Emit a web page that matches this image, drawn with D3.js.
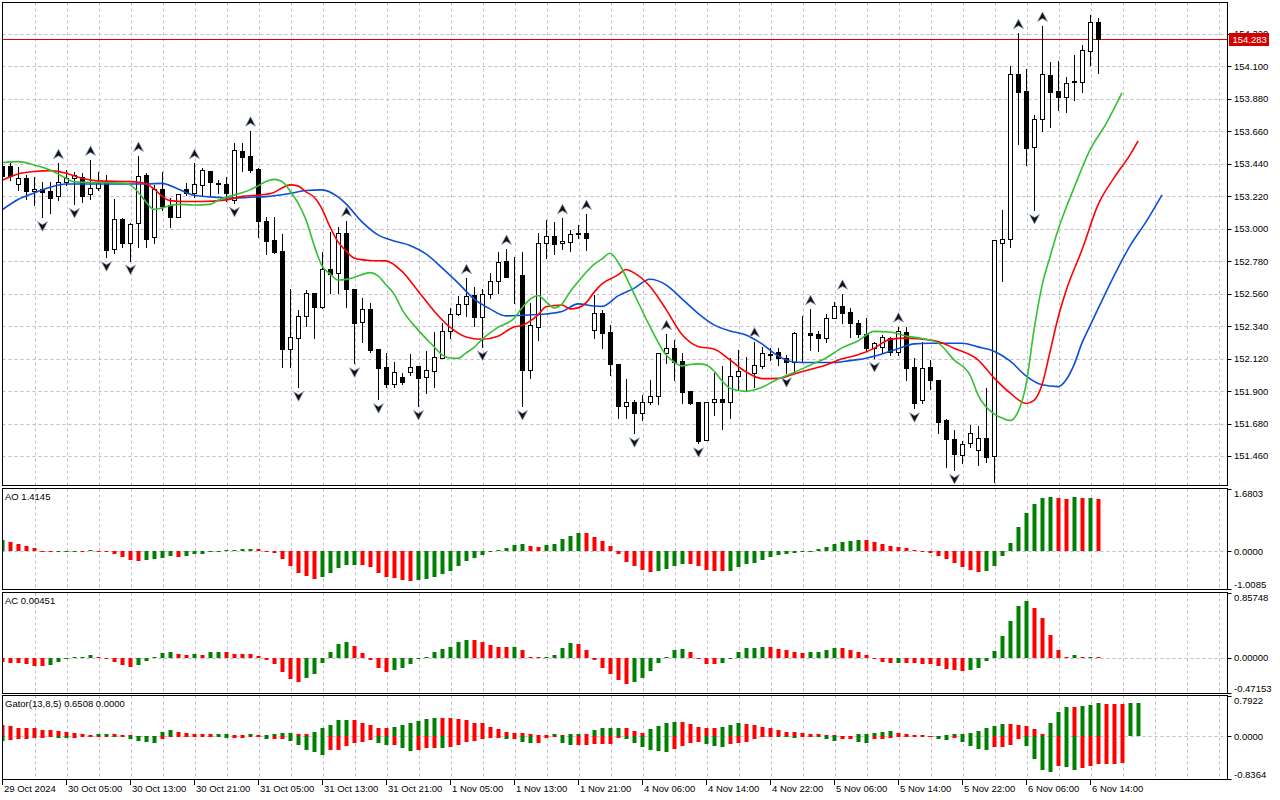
<!DOCTYPE html>
<html>
<head>
<meta charset="utf-8">
<script src="https://cdn.jsdelivr.net/npm/d3@7"></script>
<style>
  body { margin: 0; background: #fff; }
  svg { display: block; }
  text { font-family: "Liberation Sans", Arial, sans-serif; font-size: 9.5px; fill: #000; }
</style>
</head>
<body>
<svg id="chart" width="1280" height="800"></svg>
<script>
// USDJPY H1, 29 Oct 2024 21:00 .. 6 Nov 2024, one entry per hourly bar
var open = [153.425,153.425,153.303,153.342,153.254,153.267,153.256,153.222,153.315,153.342,
  153.353,153.234,153.274,153.319,152.861,153.064,152.902,153.037,153.364,152.943,
  153.267,153.161,153.082,153.267,153.244,153.297,153.391,153.310,153.303,153.195,
  153.527,153.493,153.405,153.053,152.924,152.850,152.184,152.259,152.410,152.563,
  152.473,152.726,152.699,152.970,152.593,152.367,152.457,152.184,152.062,151.947,
  151.995,152.033,152.071,151.995,152.039,152.123,152.308,152.421,152.489,152.550,
  152.405,152.557,152.647,152.782,152.676,152.687,152.044,152.337,152.902,152.951,
  152.902,152.913,152.970,152.974,152.315,152.428,152.299,152.085,151.802,151.825,
  151.751,151.830,151.868,152.157,152.191,152.105,151.902,151.830,151.570,151.825,
  151.846,151.830,152.006,152.024,152.022,152.071,152.146,152.164,152.123,152.100,
  152.288,152.295,152.286,152.263,152.394,152.477,152.439,152.364,152.286,152.193,
  152.202,152.263,152.168,152.303,152.066,151.841,152.066,151.976,151.706,151.575,
  151.467,151.548,151.503,151.582,151.462,152.906,152.929,154.048,153.935,153.556,
  153.741,154.041,153.935,153.894,153.998,153.992,154.206,154.398];
var high = [153.446,153.443,153.416,153.364,153.353,153.315,153.319,153.443,153.398,153.387,
  153.376,153.466,153.387,153.364,153.200,153.073,153.037,153.493,153.378,153.297,
  153.387,153.207,153.236,153.308,153.443,153.410,153.391,153.330,153.353,153.583,
  153.579,153.664,153.410,153.078,153.082,152.965,152.590,152.450,152.586,152.565,
  152.845,152.980,153.010,153.053,152.593,152.529,152.496,152.184,152.157,152.100,
  152.026,152.153,152.071,152.175,152.303,152.360,152.462,152.545,152.665,152.608,
  152.590,152.703,152.845,152.863,152.811,152.845,152.496,152.970,153.060,153.044,
  153.071,152.992,153.026,153.100,152.552,152.450,152.349,152.085,151.981,151.841,
  151.875,151.976,152.157,152.286,152.247,152.157,151.902,151.830,151.825,152.022,
  152.071,152.123,152.179,152.134,152.236,152.202,152.191,152.191,152.146,152.303,
  152.410,152.455,152.310,152.423,152.506,152.559,152.462,152.382,152.394,152.236,
  152.281,152.269,152.337,152.337,152.123,152.236,152.112,151.976,151.710,151.638,
  151.565,151.672,151.665,151.920,152.924,153.127,154.102,154.324,154.080,153.770,
  154.373,154.131,154.136,154.026,154.177,154.244,154.447,154.425];
var low = [153.344,153.330,153.263,153.200,153.161,153.078,153.109,153.195,153.297,153.168,
  153.184,153.200,153.263,152.807,152.838,152.879,152.784,152.879,152.879,152.902,
  153.127,153.010,153.078,153.229,153.217,153.222,153.222,153.240,153.190,153.175,
  153.393,153.387,152.942,152.829,152.838,152.066,152.062,151.927,152.342,152.259,
  152.464,152.567,152.567,152.473,152.089,152.236,152.168,151.846,151.927,151.927,
  151.947,152.010,151.800,151.890,151.931,152.123,152.259,152.416,152.410,152.344,
  152.202,152.529,152.567,152.676,152.496,151.800,151.988,152.247,152.800,152.829,
  152.863,152.850,152.940,152.857,152.259,152.191,152.010,151.717,151.717,151.615,
  151.706,151.812,151.812,152.089,151.976,151.819,151.814,151.548,151.570,151.739,
  151.643,151.717,151.909,151.909,151.931,152.056,152.112,152.078,152.022,152.033,
  152.100,152.180,152.175,152.236,152.394,152.360,152.269,152.269,152.180,152.125,
  152.157,152.146,152.146,151.976,151.785,151.819,151.913,151.616,151.389,151.367,
  151.412,151.525,151.401,151.423,151.286,152.649,152.875,153.574,153.432,153.127,
  153.662,153.691,153.804,153.793,153.872,153.928,154.109,154.053];
var close = [153.357,153.359,153.342,153.256,153.267,153.249,153.211,153.315,153.342,153.364,
  153.222,153.274,153.308,152.857,153.064,152.902,153.031,153.357,152.929,153.267,
  153.154,153.082,153.234,153.244,153.303,153.398,153.319,153.306,153.240,153.534,
  153.488,153.398,153.053,152.919,152.845,152.184,152.265,152.410,152.565,152.473,
  152.726,152.694,152.970,152.595,152.364,152.457,152.180,152.060,151.947,152.033,
  151.965,152.066,151.988,152.044,152.130,152.310,152.421,152.489,152.547,152.401,
  152.557,152.649,152.777,152.676,152.674,152.044,152.349,152.902,152.951,152.895,
  152.917,152.965,152.965,152.936,152.428,152.297,152.083,151.800,151.825,151.751,
  151.830,151.868,152.157,152.191,152.100,151.897,151.823,151.563,151.825,151.846,
  151.830,152.004,152.037,152.020,152.078,152.157,152.149,152.123,152.100,152.293,
  152.284,152.281,152.263,152.394,152.477,152.432,152.360,152.286,152.195,152.227,
  152.265,152.168,152.308,152.056,151.823,152.056,151.976,151.694,151.575,151.475,
  151.543,151.616,151.582,151.453,152.924,152.929,154.048,153.928,153.549,153.741,
  154.048,153.928,153.894,153.989,153.994,154.211,154.398,154.283];

// bars carrying a Bill Williams fractal
var fractalUp = [7, 11, 17, 24, 31, 43, 58, 63, 70, 73, 83, 94, 101, 105, 112, 127, 130];
var fractalDown = [5, 9, 13, 16, 29, 37, 44, 47, 52, 60, 65, 79, 87, 98, 109, 114, 119, 124, 129];

// Alligator lines as [bar, price]; they run past the last bar by their shift
var jaw = [[0,153.127],[2,153.198],[4,153.242],[6,153.281],[8,153.303],[14,153.303],[18,153.303],[20,153.307],
  [22,153.269],[24,153.226],[27,153.212],[29,153.207],[31,153.213],[33,153.217],[36,153.239],[38,153.259],
  [40,153.263],[42,153.215],[43,153.168],[45,153.046],[47,152.958],[49,152.917],[51,152.887],[53,152.829],
  [55,152.735],[57,152.633],[59,152.525],[61,152.457],[63,152.410],[65,152.414],[68,152.423],[70,152.439],
  [72,152.491],[74,152.477],[75,152.474],[77,152.545],[79,152.596],[81,152.658],[83,152.620],[85,152.525],
  [87,152.427],[89,152.349],[91,152.308],[93,152.281],[95,152.220],[97,152.139],[99,152.098],[101,152.094],
  [104,152.094],[106,152.107],[108,152.123],[110,152.152],[112,152.188],[114,152.220],[116,152.225],
  [120,152.225],[122,152.200],[124,152.171],[126,152.105],[128,152.004],[130,151.943],[132,151.931],
  [133,151.976],[134,152.078],[135,152.227],[136,152.342],[137,152.457],[139,152.681],[141,152.884],
  [143,153.046],[145,153.229]];
var teeth = [[0,153.327],[2,153.371],[4,153.387],[6,153.393],[8,153.376],[10,153.342],[12,153.324],[16,153.319],
  [18,153.305],[19,153.269],[20,153.222],[21,153.190],[23,153.184],[25,153.184],[28,153.195],[30,153.219],
  [32,153.227],[34,153.246],[35,153.276],[36,153.297],[37,153.290],[38,153.249],[39,153.215],[40,153.134],
  [41,153.012],[42,152.911],[43,152.850],[44,152.802],[46,152.785],[48,152.782],[50,152.711],[52,152.579],
  [54,152.443],[56,152.333],[58,152.267],[60,152.252],[62,152.272],[64,152.335],[65,152.345],[67,152.416],
  [68,152.471],[70,152.484],[71,152.457],[72,152.464],[73,152.498],[74,152.569],[75,152.626],[77,152.687],
  [78,152.724],[79,152.701],[81,152.609],[83,152.454],[85,152.284],[87,152.203],[89,152.185],[91,152.112],
  [93,152.031],[95,151.985],[97,151.987],[99,152.017],[101,152.047],[103,152.078],[105,152.119],[107,152.146],
  [109,152.190],[111,152.251],[113,152.259],[116,152.247],[117,152.237],[119,152.191],[122,152.112],
  [124,151.990],[126,151.888],[128,151.817],[129,151.838],[130,151.943],[131,152.166],[132,152.396],
  [133,152.579],[135,152.857],[137,153.161],[139,153.344],[141,153.500],[142,153.594]];
var lips = [[0,153.448],[2,153.454],[4,153.432],[6,153.398],[8,153.342],[9,153.317],[12,153.312],[15,153.310],
  [16,153.297],[17,153.249],[18,153.181],[19,153.131],[20,153.141],[22,153.165],[24,153.161],[26,153.165],
  [27,153.192],[28,153.212],[30,153.243],[31,153.263],[32,153.290],[33,153.320],[34,153.334],[35,153.320],
  [36,153.256],[37,153.175],[38,153.060],[39,152.890],[40,152.748],[41,152.694],[42,152.653],[43,152.657],
  [44,152.670],[46,152.703],[47,152.681],[48,152.620],[49,152.559],[50,152.454],[52,152.315],[54,152.202],
  [55,152.146],[56,152.125],[57,152.122],[58,152.159],[59,152.196],[60,152.251],[62,152.332],[64,152.393],
  [65,152.464],[66,152.521],[67,152.548],[68,152.507],[69,152.464],[70,152.491],[71,152.572],[72,152.640],
  [74,152.758],[75,152.796],[76,152.834],[77,152.775],[78,152.674],[79,152.561],[81,152.337],[83,152.146],
  [84,152.098],[85,152.071],[86,152.081],[87,152.085],[88,152.078],[89,152.037],[90,151.970],[91,151.920],
  [93,151.899],[95,151.926],[97,151.983],[99,152.027],[101,152.076],[103,152.125],[105,152.193],[107,152.240],
  [109,152.305],[111,152.301],[113,152.274],[115,152.257],[117,152.227],[119,152.112],[121,152.010],
  [122,151.875],[124,151.746],[125,151.719],[126,151.701],[127,151.760],[128,151.943],[129,152.315],
  [130,152.613],[131,152.809],[132,152.992],[133,153.141],[134,153.276],[136,153.534],[138,153.710],[140,153.919]];

// Awesome Oscillator
var ao = [0.30,0.25,0.196,0.143,0.089,0.018,0.010,0.012,0.018,0.020,
  0.008,0.036,0.009,-0.003,-0.06,-0.15,-0.23,-0.25,-0.22,-0.215,
  -0.18,-0.125,-0.143,-0.125,-0.07,-0.065,-0.01,-0.005,0.03,0.05,
  0.075,0.08,0.078,0.02,-0.04,-0.2,-0.39,-0.59,-0.66,-0.73,
  -0.68,-0.57,-0.44,-0.37,-0.35,-0.365,-0.42,-0.59,-0.68,-0.70,
  -0.77,-0.78,-0.77,-0.73,-0.68,-0.60,-0.53,-0.39,-0.25,-0.17,
  -0.10,-0.005,0.036,0.09,0.17,0.196,0.143,0.116,0.17,0.196,
  0.34,0.43,0.49,0.485,0.39,0.28,0.14,-0.06,-0.28,-0.39,
  -0.50,-0.55,-0.526,-0.46,-0.39,-0.33,-0.335,-0.39,-0.50,-0.526,
  -0.53,-0.52,-0.42,-0.33,-0.30,-0.22,-0.14,-0.107,-0.06,-0.036,
  -0.005,0.009,0.062,0.116,0.196,0.25,0.276,0.303,0.30,0.25,
  0.196,0.143,0.116,0.089,0.036,-0.008,-0.036,-0.116,-0.214,-0.30,
  -0.42,-0.49,-0.544,-0.526,-0.39,-0.116,0.223,0.65,1.025,1.266,
  1.444,1.47,1.426,1.408,1.47,1.426,1.444,1.4145];

// Accelerator Oscillator
var ac = [-0.06,-0.072,-0.073,-0.089,-0.107,-0.116,-0.103,-0.063,-0.013,0.002,
  0.013,0.027,0.013,-0.018,-0.058,-0.094,-0.125,-0.103,-0.045,0.004,
  0.054,0.072,0.045,0.036,0.045,0.040,0.072,0.075,0.072,0.045,
  0.044,0.043,0.018,-0.027,-0.085,-0.192,-0.286,-0.327,-0.273,-0.219,
  -0.072,0.072,0.179,0.206,0.152,0.054,-0.031,-0.139,-0.192,-0.166,
  -0.139,-0.085,-0.009,0.013,0.072,0.107,0.134,0.206,0.233,0.230,
  0.206,0.166,0.139,0.137,0.139,0.098,0.013,0.002,0.009,0.040,
  0.121,0.192,0.179,0.098,-0.031,-0.139,-0.219,-0.304,-0.353,-0.327,
  -0.273,-0.179,-0.072,0.013,0.098,0.112,0.072,-0.002,-0.085,-0.087,
  -0.072,-0.013,0.072,0.125,0.127,0.139,0.137,0.112,0.098,0.072,
  0.058,0.072,0.074,0.098,0.125,0.123,0.098,0.072,0.027,-0.018,
  -0.058,-0.072,-0.070,-0.072,-0.074,-0.085,-0.087,-0.112,-0.152,-0.166,
  -0.179,-0.166,-0.139,-0.045,0.085,0.286,0.488,0.689,0.756,0.662,
  0.528,0.300,0.098,0.004,0.027,0.002,0.013,0.00451];

// Gator(13,8,5): upper = |jaw - teeth|, lower = -|teeth - lips|
var gatorUp = [0.219,0.205,0.172,0.170,0.159,0.132,0.119,0.099,0.079,0.066,
  0.046,0.033,0.040,0.046,0.045,0.033,0.020,0.013,0.007,0.013,
  0.086,0.126,0.086,0.060,0.040,0.039,0.038,0.040,0.046,0.020,
  0.019,0.040,0.026,0.033,0.040,0.060,0.061,0.040,0.039,0.086,
  0.166,0.232,0.318,0.325,0.318,0.265,0.225,0.172,0.159,0.192,
  0.225,0.258,0.298,0.344,0.364,0.362,0.358,0.338,0.318,0.272,
  0.258,0.192,0.139,0.093,0.073,0.060,0.040,0.033,0.032,0.053,
  0.033,0.040,0.041,0.040,0.119,0.159,0.160,0.161,0.159,0.099,
  0.060,0.139,0.205,0.258,0.285,0.284,0.238,0.192,0.172,0.166,
  0.192,0.232,0.265,0.238,0.232,0.185,0.166,0.126,0.086,0.080,
  0.060,0.053,0.040,0.033,0.020,0.007,0.005,0.040,0.046,0.066,
  0.093,0.106,0.073,0.040,0.033,0.020,0.017,0.013,0.033,0.046,
  0.053,0.073,0.106,0.172,0.205,0.245,0.244,0.232,0.205,0.146,
  0.040,0.265,0.483,0.583,0.576,0.603,0.623,0.656,0.642,0.636,
  0.630,0.648,0.6508];
var gatorDown = [-0.099,-0.079,-0.060,-0.060,-0.026,-0.026,-0.020,-0.033,-0.040,-0.026,
  -0.013,-0.013,-0.007,-0.007,-0.020,-0.013,-0.046,-0.093,-0.113,-0.126,
  -0.060,-0.020,-0.020,-0.007,-0.007,-0.007,-0.007,-0.013,-0.033,-0.026,
  -0.026,-0.013,-0.013,-0.060,-0.060,-0.060,-0.093,-0.179,-0.258,-0.311,
  -0.364,-0.258,-0.258,-0.192,-0.126,-0.113,-0.079,-0.126,-0.179,-0.179,
  -0.225,-0.278,-0.258,-0.225,-0.225,-0.230,-0.212,-0.179,-0.106,-0.093,
  -0.060,-0.033,-0.033,-0.060,-0.060,-0.113,-0.126,-0.126,-0.033,-0.007,
  -0.126,-0.179,-0.179,-0.166,-0.159,-0.159,-0.159,-0.026,-0.046,-0.126,
  -0.205,-0.272,-0.291,-0.305,-0.238,-0.192,-0.126,-0.113,-0.159,-0.192,
  -0.205,-0.146,-0.126,-0.106,-0.060,-0.007,-0.003,-0.007,-0.020,-0.026,
  -0.013,-0.007,-0.020,-0.060,-0.093,-0.060,-0.060,-0.113,-0.126,-0.060,
  -0.060,-0.040,-0.020,-0.007,-0.007,-0.007,-0.003,-0.046,-0.066,-0.026,
  -0.106,-0.192,-0.245,-0.258,-0.205,-0.205,-0.166,-0.060,-0.192,-0.444,
  -0.656,-0.695,-0.589,-0.603,-0.656,-0.623,-0.576,-0.543,-0.543,-0.542,
  -0.523];

var priceTicks = [154.320,154.100,153.880,153.660,153.440,153.220,153.000,152.780,152.560,152.340,152.120,151.900,151.680,151.460];
var aoTicks = ["1.6803", "0.0000", "-1.0085"];
var acTicks = ["0.85748", "0.00000", "-0.47153"];
var gatorTicks = ["0.7922", "0.0000", "-0.8364"];
var timeLabels = ["29 Oct 2024","30 Oct 05:00","30 Oct 13:00","30 Oct 21:00","31 Oct 05:00","31 Oct 13:00",
  "31 Oct 21:00","1 Nov 05:00","1 Nov 13:00","1 Nov 21:00","4 Nov 06:00","4 Nov 14:00","4 Nov 22:00",
  "5 Nov 06:00","5 Nov 14:00","5 Nov 22:00","6 Nov 06:00","6 Nov 14:00"];
var lastPrice = 154.283;

var GREEN = "#008000", RED = "#ff0000", GRID = "#c6b9c9", PRICE_RED = "#e00000";
var svg = d3.select("#chart");

// 8 px per bar, bar 0 sits on the left border
var x = d3.scaleLinear().domain([0, 153]).range([2, 1226]);
var yMain = d3.scaleLinear().domain([151.258, 154.535]).range([486, 2]);
var yAO = d3.scaleLinear().domain([-1.0085, 1.6803]).range([589, 489]);
var yAC = d3.scaleLinear().domain([-0.47153, 0.85748]).range([693, 593]);
var yGator = d3.scaleLinear().domain([-0.8364, 0.7922]).range([779, 696]);

var panels = [
  { id: "main", top: 2.5, bottom: 485.5 },
  { id: "ao", top: 488.5, bottom: 589.5, y: yAO, ticks: aoTicks, label: "AO 1.4145" },
  { id: "ac", top: 592.5, bottom: 693.5, y: yAC, ticks: acTicks, label: "AC 0.00451" },
  { id: "gator", top: 695.5, bottom: 779.5, y: yGator, ticks: gatorTicks, label: "Gator(13,8,5) 0.6508 0.0000" }
];
var left = 2.5, right = 1227.5;

var defs = svg.append("defs");
var layer = {};
panels.forEach(function (p) {
  defs.append("clipPath").attr("id", "clip-" + p.id)
    .append("rect").attr("x", left + 0.5).attr("y", p.top + 0.5)
    .attr("width", right - left - 1).attr("height", p.bottom - p.top - 1);
  layer[p.id] = svg.append("g").attr("clip-path", "url(#clip-" + p.id + ")");
});

function crisp(v) { return Math.round(v) + 0.5; }

/* ------- GRID -------*/
var gridBars = d3.range(4, 153, 4);
panels.forEach(function (p) {
  layer[p.id].selectAll("line.vgrid").data(gridBars).enter().append("line")
    .attr("x1", function (d) { return Math.round(x(d)) + 1.5; })
    .attr("x2", function (d) { return Math.round(x(d)) + 1.5; })
    .attr("y1", p.top).attr("y2", p.bottom)
    .attr("stroke", GRID).attr("stroke-dasharray", "3,3");
});
layer.main.selectAll("line.hgrid").data(priceTicks).enter().append("line")
  .attr("x1", left).attr("x2", right)
  .attr("y1", function (d) { return crisp(yMain(d)); })
  .attr("y2", function (d) { return crisp(yMain(d)); })
  .attr("stroke", GRID).attr("stroke-dasharray", "3,3");
panels.slice(1).forEach(function (p) {
  layer[p.id].append("line")
    .attr("x1", left).attr("x2", right)
    .attr("y1", crisp(p.y(0))).attr("y2", crisp(p.y(0)))
    .attr("stroke", GRID).attr("stroke-dasharray", "3,3");
});

/* ------- CURRENT PRICE LINE -------*/
var py = crisp(yMain(lastPrice));
layer.main.append("rect")
  .attr("x", left).attr("y", py - 0.5)
  .attr("width", right - left).attr("height", 1)
  .attr("fill", PRICE_RED).attr("shape-rendering", "crispEdges");

/* ------- CANDLES -------*/
var bars = d3.range(open.length);
var candles = layer.main.append("g");
candles.selectAll("line.wick").data(bars).enter().append("line")
  .attr("x1", function (i) { return Math.round(x(i)) + 0.5; })
  .attr("x2", function (i) { return Math.round(x(i)) + 0.5; })
  .attr("y1", function (i) { return Math.round(yMain(high[i])); })
  .attr("y2", function (i) { return Math.round(yMain(low[i])) + 1; })
  .attr("stroke", "#000");
candles.selectAll("rect.body").data(bars).enter().append("rect")
  .attr("x", function (i) { return Math.round(x(i)) - 1.5; })
  .attr("width", 4)
  .attr("y", function (i) { return Math.round(yMain(Math.max(open[i], close[i]))) + 0.5; })
  .attr("height", function (i) {
    return Math.max(0, Math.round(yMain(Math.min(open[i], close[i]))) - Math.round(yMain(Math.max(open[i], close[i]))));
  })
  .attr("fill", function (i) { return close[i] >= open[i] ? "#fff" : "#000"; })
  .attr("stroke", "#000");

/* ------- ALLIGATOR -------*/
var line = d3.line()
  .x(function (d) { return x(d[0]); })
  .y(function (d) { return yMain(d[1]); })
  .curve(d3.curveMonotoneX);
[[jaw, "#0b4fd6"], [teeth, "#ff0000"], [lips, "#33c133"]].forEach(function (s) {
  layer.main.append("path").datum(s[0])
    .attr("d", line).attr("fill", "none")
    .attr("stroke", s[1]).attr("stroke-width", 1.6);
});

/* ------- FRACTALS -------*/
var arrowUp = "M0,-5L5,4.5L0,1.5L-5,4.5Z";
var arrowDown = "M0,5L5,-4.5L0,-1.5L-5,-4.5Z";
layer.main.selectAll("path.fup").data(fractalUp).enter().append("path")
  .attr("d", arrowUp)
  .attr("transform", function (i) { return "translate(" + (Math.round(x(i)) + 0.5) + "," + (yMain(high[i]) - 9) + ")"; })
  .attr("fill", "#111").attr("stroke", "#8a9cc0").attr("stroke-width", 0.7);
layer.main.selectAll("path.fdn").data(fractalDown).enter().append("path")
  .attr("d", arrowDown)
  .attr("transform", function (i) { return "translate(" + (Math.round(x(i)) + 0.5) + "," + (yMain(low[i]) + 9) + ")"; })
  .attr("fill", "#111").attr("stroke", "#8a9cc0").attr("stroke-width", 0.7);

/* ------- OSCILLATORS -------*/
function histogram(g, values, y, firstColor, byMagnitude) {
  var y0 = Math.round(y(0));
  g.selectAll("rect.hist" + values.length).data(values).enter().append("rect")
    .attr("x", function (d, i) { return Math.round(x(i)) - 1.5; })
    .attr("width", 4)
    .attr("y", function (d) { return Math.min(Math.round(y(d)), y0); })
    .attr("height", function (d) { return Math.max(1, Math.abs(Math.round(y(d)) - y0)); })
    .attr("fill", function (d, i) {
      if (i === 0) return firstColor;
      var a = byMagnitude ? Math.abs(d) : d, b = byMagnitude ? Math.abs(values[i - 1]) : values[i - 1];
      return a > b ? GREEN : RED;
    });
}
histogram(layer.ao, ao, yAO, GREEN, false);
histogram(layer.ac, ac, yAC, RED, false);
histogram(layer.gator, gatorUp, yGator, RED, false);
histogram(layer.gator, gatorDown, yGator, GREEN, true);

/* ------- BORDERS & LABELS -------*/
panels.forEach(function (p) {
  svg.append("rect")
    .attr("x", left).attr("y", p.top)
    .attr("width", right - left).attr("height", p.bottom - p.top)
    .attr("fill", "none").attr("stroke", "#000");
  if (p.label) {
    svg.append("text").attr("x", 5).attr("y", p.top + 11.5).text(p.label);
    p.ticks.forEach(function (t) {
      var v = +t, yy = Math.min(Math.max(p.y(v), p.top + 5), p.bottom - 5);
      svg.append("line").attr("x1", right).attr("x2", right + 4)
        .attr("y1", crisp(p.y(v))).attr("y2", crisp(p.y(v))).attr("stroke", "#000");
      svg.append("text").attr("x", right + 6.5).attr("y", yy).attr("dy", "0.35em").text(t);
    });
  }
});

// price axis
svg.selectAll("line.ptick").data(priceTicks).enter().append("line")
  .attr("x1", right).attr("x2", right + 4)
  .attr("y1", function (d) { return crisp(yMain(d)); })
  .attr("y2", function (d) { return crisp(yMain(d)); })
  .attr("stroke", "#000");
svg.selectAll("text.plabel").data(priceTicks).enter().append("text")
  .attr("x", right + 6.5)
  .attr("y", function (d) { return yMain(d); })
  .attr("dy", "0.35em")
  .text(function (d) { return d3.format(".3f")(d); });

// last price tag sits over the 154.320 label, as on the terminal
svg.append("rect").attr("x", right + 1.5).attr("y", py - 6.5).attr("width", 40).attr("height", 13).attr("fill", "#d40000");
svg.append("text").attr("x", right + 5).attr("y", py).attr("dy", "0.35em")
  .style("fill", "#fff").text(d3.format(".3f")(lastPrice));

// time axis
var timeBars = timeLabels.map(function (d, k) { return k * 8; });
svg.selectAll("line.ttick").data(timeBars).enter().append("line")
  .attr("x1", function (i) { return Math.round(x(i)) + 0.5; })
  .attr("x2", function (i) { return Math.round(x(i)) + 0.5; })
  .attr("y1", 779.5).attr("y2", 785)
  .attr("stroke", "#000");
svg.selectAll("text.tlabel").data(timeLabels).enter().append("text")
  .attr("x", function (d, k) { return Math.round(x(timeBars[k])) + 2; })
  .attr("y", 792)
  .text(function (d) { return d; });
</script>
</body>
</html>
